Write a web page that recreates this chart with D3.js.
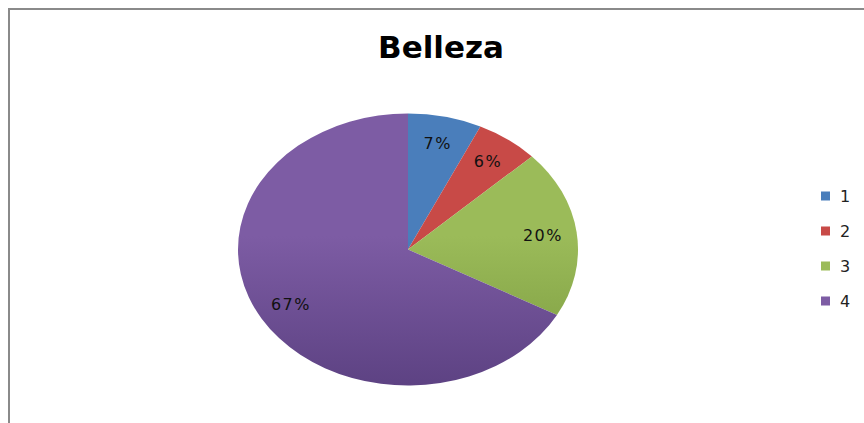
<!DOCTYPE html>
<html>
<head>
<meta charset="utf-8">
<script src="https://cdn.jsdelivr.net/npm/d3@7"></script>
<style>
  html, body { margin: 0; padding: 0; background: #fff; }
  svg { display: block; }
</style>
</head>
<body>
<svg id="chart" width="864" height="423"></svg>
<script>
// Survey answers for "Belleza"
const title = "Belleza";
const categories = ["1", "2", "3", "4"];
const values = [7, 6, 20, 67];
const colors = ["#4a7ebb", "#c84a47", "#9bbb59", "#7d5ca4"];
const darkColors = ["#3a6496", "#a63f3c", "#7a9a3f", "#5d4283"];

const W = 864, H = 423;
const svg = d3.select("#chart");

// Chart frame
svg.append("rect")
  .attr("x", 9).attr("y", 9)
  .attr("width", W + 10).attr("height", H + 10)
  .attr("fill", "#fff")
  .attr("stroke", "#8a8a8a").attr("stroke-width", 2);

// Title
svg.append("text")
  .attr("x", 441).attr("y", 58)
  .attr("text-anchor", "middle")
  .attr("font-family", "'DejaVu Sans', sans-serif")
  .attr("font-weight", "bold")
  .attr("font-size", 31)
  .attr("fill", "#000")
  .text(title);

// Vertical shading per slice
const defs = svg.append("defs");
categories.forEach((c, i) => {
  const g = defs.append("linearGradient")
    .attr("id", "grad" + i)
    .attr("gradientUnits", "userSpaceOnUse")
    .attr("x1", 0).attr("y1", -170).attr("x2", 0).attr("y2", 170);
  g.append("stop").attr("offset", "0%").attr("stop-color", colors[i]);
  g.append("stop").attr("offset", "45%").attr("stop-color", colors[i]);
  g.append("stop").attr("offset", "100%").attr("stop-color", darkColors[i]);
});

// Pie, drawn as a circle and flattened into an ellipse
const cx = 408, cy = 249.5, rx = 170, ry = 136;
const radius = rx;
const pie = d3.pie().sort(null).value(d => d)(values);
const arc = d3.arc().innerRadius(0).outerRadius(radius);
const labelArc = d3.arc().innerRadius(radius * 0.8).outerRadius(radius * 0.8);

const pieG = svg.append("g")
  .attr("transform", `translate(${cx},${cy}) scale(1,${ry / rx})`);

pieG.selectAll("path")
  .data(pie)
  .join("path")
  .attr("d", arc)
  .attr("fill", (d, i) => `url(#grad${i})`);

// Percentage labels
const total = d3.sum(values);
svg.append("g")
  .selectAll("text")
  .data(pie)
  .join("text")
  .attr("x", d => cx + labelArc.centroid(d)[0])
  .attr("y", d => cy + labelArc.centroid(d)[1] * ry / rx)
  .attr("text-anchor", "middle")
  .attr("dominant-baseline", "central")
  .attr("font-family", "'DejaVu Sans', sans-serif")
  .attr("font-size", 16)
  .attr("letter-spacing", 1.5)
  .attr("fill", "#111")
  .text(d => Math.round(d.data / total * 100) + "%");

// Legend
const legendY = d3.scalePoint().domain(categories).range([196, 301]);
const legend = svg.append("g")
  .selectAll("g")
  .data(categories)
  .join("g")
  .attr("transform", d => `translate(821,${legendY(d)})`);

legend.append("rect")
  .attr("x", 0).attr("y", -4.5)
  .attr("width", 9).attr("height", 9)
  .attr("fill", (d, i) => colors[i]);

legend.append("text")
  .attr("x", 19).attr("y", 0)
  .attr("dominant-baseline", "central")
  .attr("font-family", "'DejaVu Sans', sans-serif")
  .attr("font-size", 16)
  .attr("fill", "#222")
  .text(d => d);
</script>
</body>
</html>
